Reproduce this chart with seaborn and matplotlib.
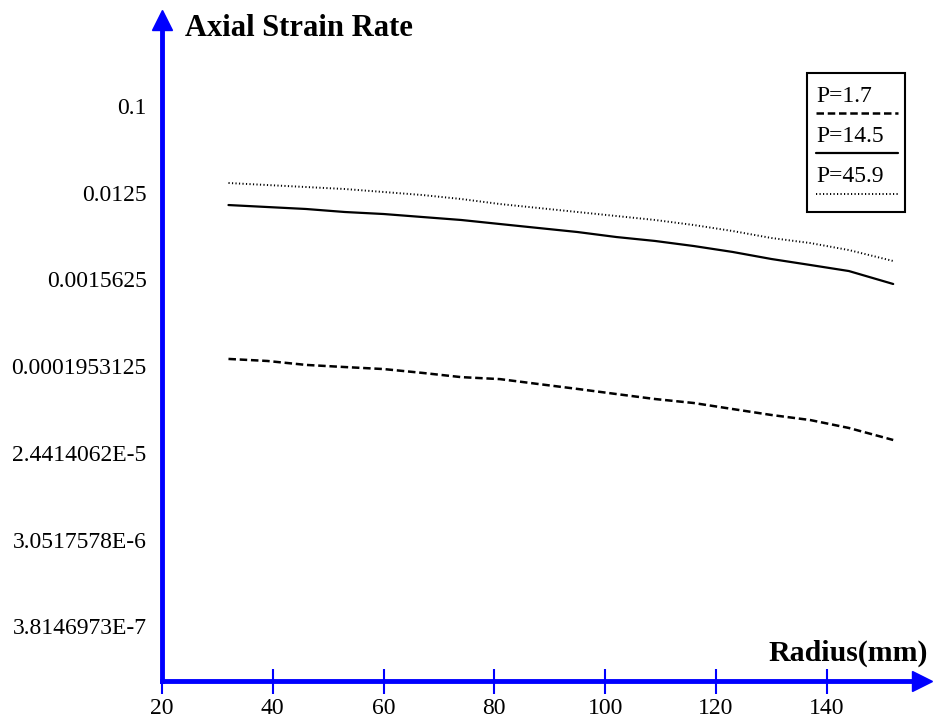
import numpy as np
import pandas as pd
import matplotlib
matplotlib.use('Agg')
import matplotlib.pyplot as plt
import seaborn as sns
from matplotlib.patches import Rectangle
from matplotlib.lines import Line2D

# Данные
radius = [32, 39, 46, 53, 60, 67, 74, 81, 88, 95, 102, 109, 116, 123, 130, 137, 144, 152]
p_1_7 = [0.000232, 0.000221, 0.000201, 0.000191, 0.000182, 0.000166, 0.000150, 0.000143, 0.000127,
         0.000113, 0.000100, 0.0000887, 0.0000806, 0.0000698, 0.0000605, 0.0000536, 0.0000443, 0.0000332]
p_14_5 = [0.00930, 0.00887, 0.00846, 0.00787, 0.00750, 0.00698, 0.00650, 0.00590, 0.00536,
          0.00487, 0.00432, 0.00393, 0.00348, 0.00302, 0.00255, 0.00221, 0.00191, 0.00140]
p_45_9 = [0.01578, 0.01503, 0.01433, 0.01366, 0.01272, 0.01183, 0.01075, 0.00953, 0.00866,
          0.00787, 0.00715, 0.00650, 0.00576, 0.00499, 0.00422, 0.00374, 0.00316, 0.00243]

x_ticks = [20, 40, 60, 80, 100, 120, 140]
y_tick_labels = ['0.1', '0.0125', '0.0015625', '0.0001953125', '2.4414062E-5', '3.0517578E-6', '3.8146973E-7']
y_ticks = [float(s) for s in y_tick_labels]

series = [('P=1.7', p_1_7, (0, (3, 1.5)), 1.8),
          ('P=14.5', p_14_5, '-', 1.6),
          ('P=45.9', p_45_9, (0, (0.6, 1.2)), 1.4)]

sns.set_style('white')
plt.rcParams['font.family'] = ['Liberation Serif', 'DejaVu Serif']
plt.rcParams['text.color'] = 'black'
plt.rcParams['xtick.labelcolor'] = 'black'
plt.rcParams['ytick.labelcolor'] = 'black'

W, H = 934, 720
fig = plt.figure(figsize=(W / 100, H / 100), dpi=100)
ax = fig.add_axes([162 / W, 1 - 681 / H, (922 - 162) / W, (681 - 20) / H])

for name, vals, ls, lw in series:
    df = pd.DataFrame({'radius': radius, 'rate': vals})
    sns.lineplot(data=df, x='radius', y='rate', ax=ax, color='black', linestyle=ls, linewidth=lw)

ax.set_yscale('log', base=8)
ax.set_xlim(20, 157.2)
ax.set_ylim(1.025e-7, 0.787)
ax.set_xticks(x_ticks)
ax.set_xticklabels([str(t) for t in x_ticks])
ax.set_yticks(y_ticks)
ax.set_yticklabels(y_tick_labels)
ax.minorticks_off()
ax.set_xlabel('')
ax.set_ylabel('')

for s in ['top', 'right']:
    ax.spines[s].set_visible(False)
for s in ['left', 'bottom']:
    ax.spines[s].set_color('blue')
    ax.spines[s].set_linewidth(3.5)

ax.tick_params(axis='x', direction='inout', length=18, width=1.5, color='blue', pad=3,
               labelsize=17, labelcolor='black', bottom=True)
ax.tick_params(axis='y', length=0, pad=11, labelsize=17, labelcolor='black', left=True)

# стрелки на концах осей
ax.plot([1], [0], marker='>', color='blue', ms=15, transform=ax.transAxes, clip_on=False)
ax.plot([0], [1], marker='^', color='blue', ms=15, transform=ax.transAxes, clip_on=False)

fig.text(185 / W, 1 - 29 / H, 'Axial Strain Rate', fontsize=22, fontweight='bold', va='center', ha='left')
fig.text(928 / W, 1 - 653 / H, 'Radius(mm)', fontsize=21.5, fontweight='bold', va='center', ha='right')

# легенда
fig.patches.append(Rectangle((807 / W, 1 - 212 / H), 98 / W, 139 / H, transform=fig.transFigure,
                             facecolor='white', edgecolor='black', linewidth=1.5))
for i, (name, vals, ls, lw) in enumerate(series):
    ty = 96 + i * 40.5
    fig.text(816 / W, 1 - ty / H, name, fontsize=17, va='center', ha='left')
    fig.lines.append(Line2D([816 / W, 898 / W], [1 - (ty + 16.5) / H] * 2, transform=fig.transFigure,
                            color='black', linestyle=ls, linewidth=lw))

plt.savefig('out.png', dpi=100)
